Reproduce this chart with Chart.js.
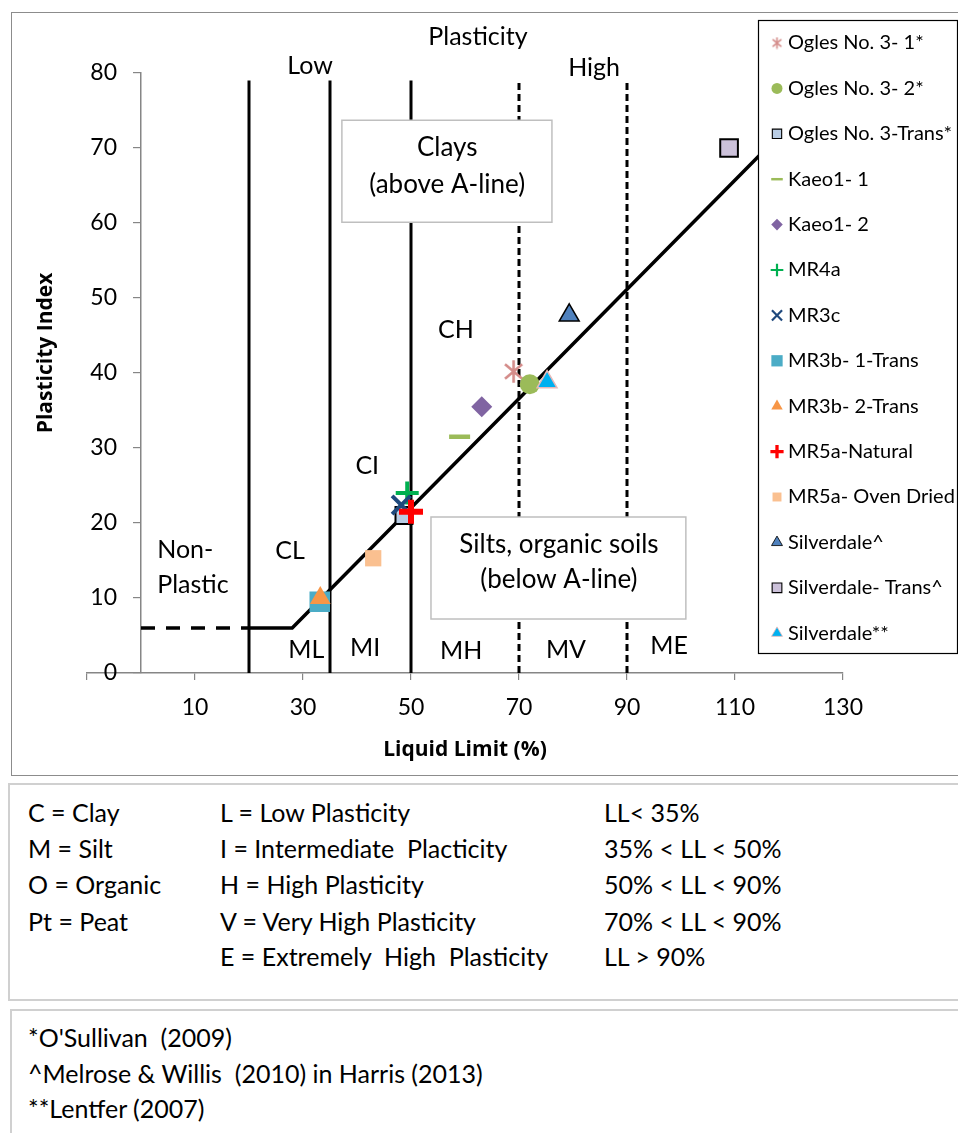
<!DOCTYPE html>
<html>
<head>
<meta charset="utf-8">
<script src="https://cdn.jsdelivr.net/npm/chart.js@4.4.1/dist/chart.umd.min.js"></script>
<style>
  body { margin: 0; width: 958px; height: 1133px; background: #fff; position: relative; overflow: hidden; font-family: Lato, "Open Sans", sans-serif; color: #000; }
  #frame { position: absolute; left: 11px; top: 12px; width: 980px; height: 762px; border: 1.5px solid #8c8c8c; }
  #wrap { position: absolute; left: 0; top: 0; width: 958px; height: 780px; }
  .box { position: absolute; border: 2px solid #d0d0d0; }
  .t { position: absolute; font-size: 25px; line-height: 30px; white-space: nowrap; }
</style>
</head>
<body>
<div id="frame"></div>
<div id="wrap"><canvas id="chart" width="958" height="780"></canvas></div>

<div class="box" style="left:8px;top:783px;width:980px;height:214px;"></div>
<div class="box" style="left:10px;top:1009px;width:980px;height:200px;"></div>

<div class="t" style="left:28px;top:797px;">C = Clay</div>
<div class="t" style="left:28px;top:833px;">M = Silt</div>
<div class="t" style="left:28px;top:869px;">O = Organic</div>
<div class="t" style="left:28px;top:906px;">Pt = Peat</div>

<div class="t" style="left:220px;top:797px;">L = Low Plasticity</div>
<div class="t" style="left:220px;top:833px;">I = Intermediate&nbsp; Placticity</div>
<div class="t" style="left:220px;top:869px;">H = High Plasticity</div>
<div class="t" style="left:220px;top:906px;">V = Very High Plasticity</div>
<div class="t" style="left:220px;top:941px;">E = Extremely&nbsp; High&nbsp; Plasticity</div>

<div class="t" style="left:604px;top:797px;">LL&lt; 35%</div>
<div class="t" style="left:604px;top:833px;">35% &lt; LL &lt; 50%</div>
<div class="t" style="left:604px;top:869px;">50% &lt; LL &lt; 90%</div>
<div class="t" style="left:604px;top:906px;">70% &lt; LL &lt; 90%</div>
<div class="t" style="left:604px;top:941px;">LL &gt; 90%</div>

<div class="t" style="left:28px;top:1022px;">*O'Sullivan&nbsp; (2009)</div>
<div class="t" style="left:28px;top:1058px;">^Melrose &amp; Willis&nbsp; (2010) in Harris (2013)</div>
<div class="t" style="left:28px;top:1093px;">**Lentfer (2007)</div>

<script>
// sample names and values (LL %, PI)
const seriesNames = [
  'Ogles No. 3- 1*', 'Ogles No. 3- 2*', 'Ogles No. 3-Trans*', 'Kaeo1- 1', 'Kaeo1- 2',
  'MR4a', 'MR3c', 'MR3b- 1-Trans', 'MR3b- 2-Trans', 'MR5a-Natural',
  'MR5a- Oven Dried', 'Silverdale^', 'Silverdale- Trans^', 'Silverdale**'
];
const liquidLimit     = [69, 72, 48.7, 59, 63.1, 49.3, 48.2, 33.1, 33.2, 50, 43, 79.3, 108.9, 75.2];
const plasticityIndex = [40.2, 38.5, 21, 31.5, 35.5, 24, 22.4, 9.5, 10, 21.5, 15.3, 47.7, 70, 38.8];

// A-line and boundaries
const aLineLL = [20, 28, 120];
const aLinePI = [6, 6, 73];
const nonPlasticLL = [0, 20];
const nonPlasticPI = [6, 6];
const boundaryLL = [20, 35, 50, 70, 90];
const boundaryPI = [0, 79];

const llTicks = [-10, 10, 30, 50, 70, 90, 110, 130];
const piTicks = [0, 10, 20, 30, 40, 50, 60, 70, 80];

// six-armed asterisk like the excel marker
function makeAsterisk(size, lw, color) {
  const c = document.createElement('canvas');
  c.width = size; c.height = size;
  const g = c.getContext('2d');
  const r = size / 2 - lw / 2;
  g.strokeStyle = color;
  g.lineWidth = lw;
  g.beginPath();
  [90, 40, 140].forEach(a => {
    const dx = Math.cos(a * Math.PI / 180) * r, dy = Math.sin(a * Math.PI / 180) * r;
    g.moveTo(size / 2 - dx, size / 2 - dy);
    g.lineTo(size / 2 + dx, size / 2 + dy);
  });
  g.stroke();
  return c;
}
const asteriskBig = makeAsterisk(25, 2.6, '#D48C8A');
const asteriskSmall = makeAsterisk(13, 1.6, '#D48C8A');

// marker styles, same order as seriesNames
const markerStyles = [
  { pointStyle: asteriskBig, legendStyle: asteriskSmall, radius: 11, bg: '#D48C8A', border: '#D48C8A', bw: 0 },
  { pointStyle: 'circle',   radius: 10, bg: '#9BBB59', border: '#9BBB59', bw: 0 },
  { pointStyle: 'rect',     radius: 12, bg: '#B9CDE5', border: '#000000', bw: 2 },
  { pointStyle: 'line',     radius: 10.5, bg: '#9BBB59', border: '#9BBB59', bw: 4.5 },
  { pointStyle: 'rectRot',  radius: 10.5, bg: '#8064A2', border: '#8064A2', bw: 0 },
  { pointStyle: 'cross',    radius: 11.5, bg: '#00B050', border: '#00B050', bw: 4 },
  { pointStyle: 'crossRot', radius: 13, bg: '#1F497D', border: '#1F497D', bw: 4 },
  { pointStyle: 'rect',     radius: 14.5, bg: '#4BACC6', border: '#4BACC6', bw: 0 },
  { pointStyle: 'triangle', radius: 12, bg: '#F79646', border: '#F79646', bw: 0 },
  { pointStyle: 'cross',    radius: 12, bg: '#FF0000', border: '#FF0000', bw: 6 },
  { pointStyle: 'rect',     radius: 11.5, bg: '#FAC090', border: '#FAC090', bw: 0 },
  { pointStyle: 'triangle', radius: 11.5, bg: '#4F81BD', border: '#000000', bw: 1.5 },
  { pointStyle: 'rect',     radius: 12.5, bg: '#CCC1DA', border: '#000000', bw: 2 },
  { pointStyle: 'triangle', radius: 11.5, bg: '#00B0F0', border: '#E6B9B8', bw: 1.5 }
];

// text labels in the plot, placed at LL / PI
const plotLabels = [
  { text: 'Plasticity', ll: 62.4, pi: 84.8 },
  { text: 'Low', ll: 31.3, pi: 80.9 },
  { text: 'High', ll: 83.9, pi: 80.7 },
  { text: 'CL', ll: 27.6, pi: 16.3 },
  { text: 'CI', ll: 41.9, pi: 27.6 },
  { text: 'CH', ll: 58.3, pi: 45.7 },
  { text: 'ML', ll: 30.6, pi: 3.1 },
  { text: 'MI', ll: 41.5, pi: 3.3 },
  { text: 'MH', ll: 59.3, pi: 2.9 },
  { text: 'MV', ll: 78.7, pi: 3.1 },
  { text: 'ME', ll: 97.8, pi: 3.6 }
];
const nonPlasticLabel = { lines: ['Non-', 'Plastic'], ll: 3, pi: [16.4, 11.7] };
const textBoxes = [
  { lines: ['Clays', '(above A-line)'], ll: [37.2, 76.1], pi: [73.7, 60.1], textLL: 56.7, textPI: [70, 65.1] },
  { lines: ['Silts, organic soils', '(below A-line)'], ll: [53.7, 100.9], pi: [20.8, 7.2], textLL: 77.4, textPI: [17.1, 12.4] }
];

const FONT = 'Lato, "Open Sans", sans-serif';
const TITLE_FONT = '"Open Sans", Lato, sans-serif';

const datasets = [];
seriesNames.forEach((name, i) => {
  const s = markerStyles[i];
  datasets.push({
    label: name,
    data: [{ x: liquidLimit[i], y: plasticityIndex[i] }],
    pointStyle: s.pointStyle,
    pointRadius: s.radius,
    backgroundColor: s.bg,
    borderColor: s.border,
    borderWidth: s.bw,
    order: seriesNames.length - i
  });
});
datasets.push({
  label: 'A-line',
  type: 'line',
  data: aLineLL.map((v, i) => ({ x: v, y: aLinePI[i] })),
  borderColor: '#000', borderWidth: 3.5, pointRadius: 0, fill: false, order: 100
});
datasets.push({
  label: 'Non-plastic',
  type: 'line',
  data: nonPlasticLL.map((v, i) => ({ x: v, y: nonPlasticPI[i] })),
  borderColor: '#000', borderWidth: 3.5, borderDash: [14, 11], pointRadius: 0, fill: false, order: 100
});
boundaryLL.forEach(v => {
  datasets.push({
    label: 'LL ' + v,
    type: 'line',
    data: boundaryPI.map(p => ({ x: v, y: p })),
    borderColor: '#000', borderWidth: 3,
    borderDash: v >= 70 ? [7, 4] : [],
    pointRadius: 0, fill: false, order: 100
  });
});

function drawMarker(ctx, s, x, y, scale) {
  ctx.save();
  ctx.fillStyle = s.bg;
  ctx.strokeStyle = s.border;
  ctx.lineWidth = s.bw * scale;
  Chart.helpers.drawPoint(ctx, {
    pointStyle: s.legendStyle || s.pointStyle, rotation: 0,
    radius: s.radius * scale, borderWidth: s.bw * scale
  }, x, y);
  ctx.restore();
}

const overlay = {
  id: 'overlay',
  beforeDraw(chart) {
    // y axis sits at LL = 0, move its labels left of the tick marks
    const ys = chart.scales.y;
    ys.getLabelItems(chart.chartArea).forEach(it => {
      if (!it._moved) { it.options.translation[0] -= 24; it._moved = true; }
    });
  },
  afterDatasetsDraw(chart) {
    const { ctx } = chart;
    const x = chart.scales.x, y = chart.scales.y;
    ctx.save();
    ctx.textBaseline = 'middle';

    // class boxes
    textBoxes.forEach(b => {
      const x1 = x.getPixelForValue(b.ll[0]), x2 = x.getPixelForValue(b.ll[1]);
      const y1 = y.getPixelForValue(b.pi[0]), y2 = y.getPixelForValue(b.pi[1]);
      ctx.fillStyle = '#fff';
      ctx.fillRect(x1, y1, x2 - x1, y2 - y1);
      ctx.strokeStyle = '#bfbfbf';
      ctx.lineWidth = 1.5;
      ctx.strokeRect(x1, y1, x2 - x1, y2 - y1);
      ctx.fillStyle = '#000';
      ctx.font = '26px ' + FONT;
      ctx.textAlign = 'center';
      b.lines.forEach((t, i) => ctx.fillText(t, x.getPixelForValue(b.textLL), y.getPixelForValue(b.textPI[i])));
    });

    // zone labels
    ctx.fillStyle = '#000';
    ctx.font = '25px ' + FONT;
    ctx.textAlign = 'center';
    plotLabels.forEach(l => ctx.fillText(l.text, x.getPixelForValue(l.ll), y.getPixelForValue(l.pi)));
    ctx.textAlign = 'left';
    nonPlasticLabel.lines.forEach((t, i) =>
      ctx.fillText(t, x.getPixelForValue(nonPlasticLabel.ll), y.getPixelForValue(nonPlasticLabel.pi[i])));

    // y axis title
    ctx.save();
    ctx.translate(46, 353);
    ctx.rotate(-Math.PI / 2);
    ctx.textAlign = 'center';
    ctx.font = 'bold 21px ' + TITLE_FONT;
    ctx.fillText('Plasticity Index', 0, 0);
    ctx.restore();

    // legend
    const lx = 758, ly = 20, lw = 199, lh = 633;
    ctx.fillStyle = '#fff';
    ctx.fillRect(lx, ly, lw, lh);
    ctx.strokeStyle = '#000';
    ctx.lineWidth = 1.2;
    ctx.strokeRect(lx + 0.5, ly + 0.5, lw, lh);
    ctx.font = '20px ' + FONT;
    ctx.textAlign = 'left';
    seriesNames.forEach((name, i) => {
      const ry = 43 + i * 45.4;
      drawMarker(ctx, markerStyles[i], 777, ry, 0.55);
      ctx.fillStyle = '#000';
      ctx.fillText(name, 788, ry);
    });
    ctx.restore();
  }
};

new Chart(document.getElementById('chart'), {
  type: 'scatter',
  data: { datasets },
  options: {
    responsive: false,
    animation: false,
    layout: { padding: { left: 87, right: 115, top: 73, bottom: 0 } },
    plugins: { legend: { display: false }, tooltip: { enabled: false } },
    scales: {
      x: {
        type: 'linear', min: -10, max: 130,
        afterBuildTicks: s => { s.ticks = llTicks.map(v => ({ value: v })); },
        afterFit: s => { s.height = 107; },
        ticks: {
          callback: v => (v < 0 ? '' : v),
          font: { family: FONT, size: 23 }, color: '#000',
          padding: 14, maxRotation: 0, autoSkip: false
        },
        grid: { drawOnChartArea: false, drawTicks: true, tickLength: 7, color: '#868686', lineWidth: 1.2 },
        border: { color: '#868686', width: 1.5 },
        title: {
          display: true, text: 'Liquid Limit (%)', color: '#000',
          font: { family: TITLE_FONT, size: 21, weight: 'bold' },
          padding: { top: 0, bottom: 17 }
        }
      },
      y: {
        type: 'linear', position: { x: 0 }, min: 0, max: 80,
        afterBuildTicks: s => { s.ticks = piTicks.map(v => ({ value: v })); },
        ticks: { font: { family: FONT, size: 23 }, color: '#000', padding: 16 },
        grid: { drawOnChartArea: false, drawTicks: true, tickLength: 7, color: '#868686', lineWidth: 1.2 },
        border: { color: '#868686', width: 1.5 }
      }
    }
  },
  plugins: [overlay]
});
</script>
</body>
</html>
